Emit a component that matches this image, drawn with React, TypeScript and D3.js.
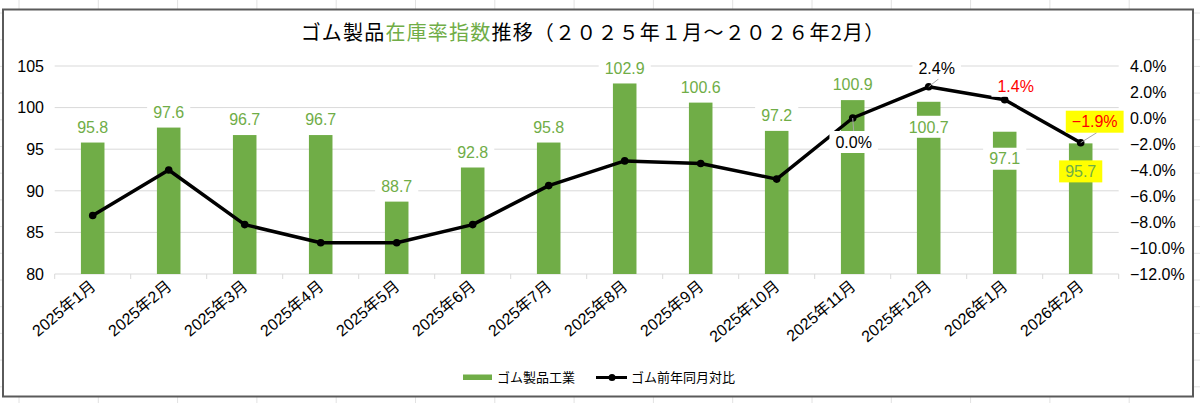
import { useEffect, useRef } from "react";
import * as d3 from "d3";

const months = [
  "2025年1月", "2025年2月", "2025年3月", "2025年4月", "2025年5月", "2025年6月", "2025年7月",
  "2025年8月", "2025年9月", "2025年10月", "2025年11月", "2025年12月", "2026年1月", "2026年2月",
];
const rubberIndex = [95.8, 97.6, 96.7, 96.7, 88.7, 92.8, 95.8, 102.9, 100.6, 97.2, 100.9, 100.7, 97.1, 95.7];
const yoyChange = [-7.5, -4.0, -8.2, -9.6, -9.6, -8.2, -5.2, -3.3, -3.5, -4.7, 0.0, 2.4, 1.4, -1.9];
const leftTicks = [80, 85, 90, 95, 100, 105];
const rightTicks = [-12, -10, -8, -6, -4, -2, 0, 2, 4];
const barName = "ゴム製品工業";
const lineName = "ゴム前年同月対比";

// label placement tweaks (offsets from the default spot, in px)
const barLabelPos: Record<number, { dy: number; bg?: string }> = {
  11: { dy: 25 },
  12: { dy: 27 },
  13: { dy: 28, bg: "#ffff00" },
};
const lineLabelPos: Record<number, { dx: number; dy: number; color: string; bg: string; leader: boolean }> = {
  10: { dx: 1, dy: 24, color: "#000", bg: "#fff", leader: true },
  11: { dx: 8, dy: -19, color: "#000", bg: "#fff", leader: true },
  12: { dx: 11, dy: -14, color: "#ff0000", bg: "#fff", leader: false },
  13: { dx: 14, dy: -21, color: "#ff0000", bg: "#ffff00", leader: true },
};

const GREEN = "#70ad47";
const FONT = "'Liberation Sans', Arial, 'Noto Sans CJK JP', sans-serif";

const Chart = () => {
  const ref = useRef<SVGSVGElement>(null);

  useEffect(() => {
    document.body.style.margin = "0";
    const svg = d3.select(ref.current).attr("width", 1200).attr("height", 403);
    svg.selectAll("*").remove();

    // spreadsheet cells behind the chart
    const bg = svg.append("g");
    for (let x = 19; x < 1200; x += 79.3)
      bg.append("line").attr("x1", x).attr("x2", x).attr("y1", 0).attr("y2", 403).attr("stroke", "#e2e2e2");
    for (let y = 13; y < 403; y += 26.7)
      bg.append("line").attr("x1", 0).attr("x2", 1200).attr("y1", y).attr("y2", y).attr("stroke", "#e2e2e2");

    svg.append("rect")
      .attr("x", 3).attr("y", 9.5).attr("width", 1190).attr("height", 387)
      .attr("fill", "#fff").attr("stroke", "#5a5a5a").attr("stroke-width", 2);

    const plot = { left: 54.7, right: 1118.7, top: 66, bottom: 274 };

    const x = d3.scaleBand().domain(months).range([plot.left, plot.right]).paddingInner(0.69).paddingOuter(0.345);
    const cx = (i: number) => (x(months[i]) as number) + x.bandwidth() / 2;
    const yL = d3.scaleLinear().domain([80, 105]).range([plot.bottom, plot.top]);
    const yR = d3.scaleLinear().domain([-12, 4]).range([plot.bottom, plot.top]);

    // title
    const title = svg.append("text")
      .attr("x", 593).attr("y", 40).attr("text-anchor", "middle")
      .attr("font-family", "'Noto Sans CJK JP', sans-serif").attr("font-size", 20)
      .attr("letter-spacing", 1.2).attr("fill", "#000");
    title.append("tspan").text("ゴム製品");
    title.append("tspan").attr("fill", GREEN).text("在庫率指数");
    title.append("tspan").text("推移（２０２５年１月～２０２６年2月）");

    // gridlines
    svg.append("g").selectAll("line").data(leftTicks).join("line")
      .attr("x1", plot.left).attr("x2", plot.right)
      .attr("y1", (d) => yL(d)).attr("y2", (d) => yL(d))
      .attr("stroke", "#d9d9d9").attr("stroke-width", 1);

    // category ticks
    const bounds = d3.range(months.length + 1).map((i) => plot.left + i * x.step());
    svg.append("g").selectAll("line").data(bounds).join("line")
      .attr("x1", (d) => d).attr("x2", (d) => d)
      .attr("y1", plot.bottom).attr("y2", plot.bottom + 5)
      .attr("stroke", "#d9d9d9");

    // left axis labels
    svg.append("g").selectAll("text").data(leftTicks).join("text")
      .attr("x", 44).attr("y", (d) => yL(d) + 5.7)
      .attr("text-anchor", "end").attr("font-family", FONT).attr("font-size", 16).attr("fill", "#000")
      .text((d) => d);

    // right axis labels
    svg.append("g").selectAll("text").data(rightTicks).join("text")
      .attr("x", 1130).attr("y", (d) => yR(d) + 5.7)
      .attr("font-family", FONT).attr("font-size", 16).attr("fill", "#000")
      .text((d) => d3.format(".1f")(d) + "%");

    // x labels
    svg.append("g").selectAll("text").data(months).join("text")
      .attr("transform", (d, i) => `translate(${cx(i) + 4},${plot.bottom + 14}) rotate(-40)`)
      .attr("text-anchor", "end").attr("font-family", FONT).attr("font-size", 16).attr("fill", "#000")
      .text((d) => d);

    // bars
    svg.append("g").selectAll("rect").data(rubberIndex).join("rect")
      .attr("x", (d, i) => x(months[i]) as number)
      .attr("y", (d) => yL(d))
      .attr("width", x.bandwidth())
      .attr("height", (d) => plot.bottom - yL(d))
      .attr("fill", GREEN);

    // line
    const line = d3.line<number>().x((d, i) => cx(i)).y((d) => yR(d));
    svg.append("path").datum(yoyChange)
      .attr("d", line).attr("fill", "none").attr("stroke", "#000").attr("stroke-width", 3.5)
      .attr("stroke-linejoin", "round");
    svg.append("g").selectAll("circle").data(yoyChange).join("circle")
      .attr("cx", (d, i) => cx(i)).attr("cy", (d) => yR(d)).attr("r", 3.8).attr("fill", "#000");

    const label = (lx: number, ly: number, txt: string, color: string, fill: string, size: number) => {
      const g = svg.append("g");
      const box = g.append("rect").attr("fill", fill);
      const t = g.append("text")
        .attr("x", lx).attr("y", ly + size * 0.36).attr("text-anchor", "middle")
        .attr("font-family", FONT).attr("font-size", size).attr("fill", color).text(txt);
      const w = (t.node() as SVGTextElement).getComputedTextLength();
      box.attr("x", lx - w / 2 - 6).attr("y", ly - 11).attr("width", w + 12).attr("height", 22);
    };

    // bar labels
    rubberIndex.forEach((v, i) => {
      const p = barLabelPos[i];
      const ly = yL(v) + (p ? p.dy : -15.5);
      label(cx(i), ly, v.toFixed(1), GREEN, p?.bg ?? "#fff", 16);
    });

    // line labels
    yoyChange.forEach((v, i) => {
      const p = lineLabelPos[i];
      if (!p) return;
      const px = cx(i), py = yR(v);
      const lx = px + p.dx, ly = py + p.dy;
      if (p.leader) {
        const ey = p.dy > 0 ? ly - 11 : ly + 11;
        svg.append("line")
          .attr("x1", px).attr("y1", py).attr("x2", lx + (p.dy > 0 ? 0 : 2)).attr("y2", ey)
          .attr("stroke", "#a6a6a6").attr("stroke-width", 1);
      }
      label(lx, ly, d3.format(".1f")(v) + "%", p.color, p.bg, 16);
    });

    // legend
    const lg = svg.append("g").attr("font-family", "'Noto Sans CJK JP', sans-serif").attr("font-size", 13);
    lg.append("rect").attr("x", 463).attr("y", 374.5).attr("width", 29).attr("height", 5.5).attr("fill", GREEN);
    lg.append("text").attr("x", 497).attr("y", 382).text(barName);
    lg.append("line").attr("x1", 596).attr("x2", 627).attr("y1", 377.5).attr("y2", 377.5)
      .attr("stroke", "#000").attr("stroke-width", 3);
    lg.append("circle").attr("cx", 612).attr("cy", 377.5).attr("r", 3.5).attr("fill", "#000");
    lg.append("text").attr("x", 631).attr("y", 382).text(lineName);
  }, []);

  return <svg ref={ref} style={{ display: "block" }}></svg>;
};

export default function App() {
  return <Chart />;
}
